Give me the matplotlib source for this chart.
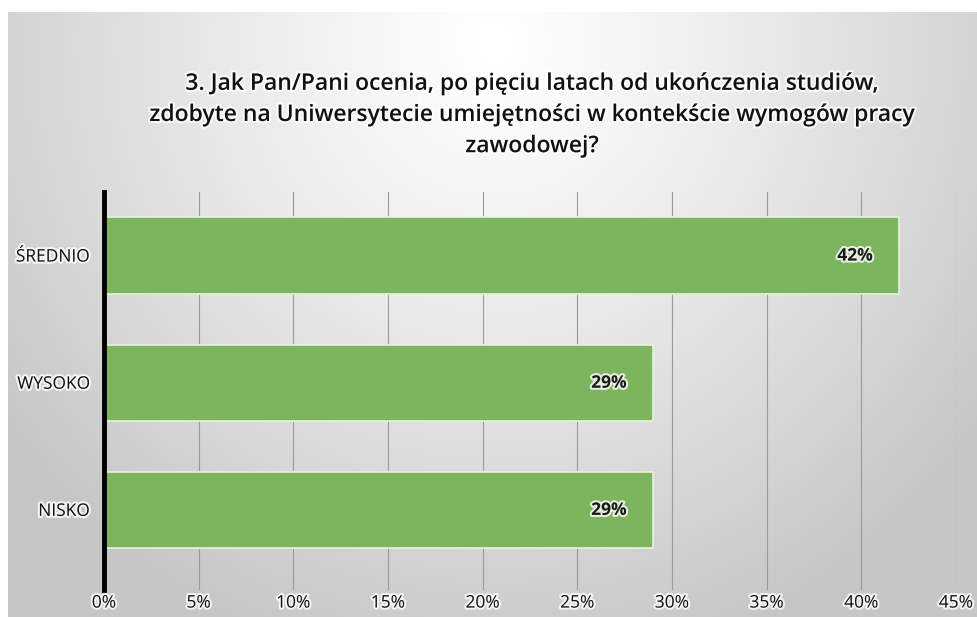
import numpy as np
import matplotlib
matplotlib.use("Agg")
import matplotlib.pyplot as plt
import matplotlib.patheffects as pe

categories = ["NISKO", "WYSOKO", "ŚREDNIO"]
values = [29, 29, 42]
value_labels = ["29%", "29%", "42%"]
xticks = [0, 5, 10, 15, 20, 25, 30, 35, 40, 45]
xtick_labels = ["0%", "5%", "10%", "15%", "20%", "25%", "30%", "35%", "40%", "45%"]
title = ("3. Jak Pan/Pani ocenia, po pięciu latach od ukończenia studiów,\n"
         "zdobyte na Uniwersytecie umiejętności w kontekście wymogów pracy\n"
         "zawodowej?")

W, H = 978, 617
fig = plt.figure(figsize=(W / 100, H / 100), dpi=100)
fig.patch.set_facecolor("white")

# background gradient panel
bg = fig.add_axes([8 / W, 0, 1 - 8 / W, 1 - 12 / H])
bg.set_axis_off()
ny, nx = 300, 480
yy, xx = np.mgrid[0:ny, 0:nx]
cx, cy = nx * 0.5, ny * 0.05
d = np.sqrt(((xx - cx) / (nx * 0.62)) ** 2 + ((yy - cy) / (ny * 1.05)) ** 2)
d = np.clip(d, 0, 1)
val = 1.0 - 0.22 * d ** 1.2
img = np.dstack([val, val, val])
bg.imshow(img, aspect="auto", extent=[0, 1, 0, 1], interpolation="bilinear")
bg.set_xlim(0, 1); bg.set_ylim(0, 1)

font = ["Open Sans", "DejaVu Sans"]
glow = [pe.withStroke(linewidth=3, foreground="white", alpha=0.8)]

# plot axes: x 0->104px, 45->956px ; y top 192, bottom 590
x0, x1 = 104, 956
yt, yb = 192, 590
ax = fig.add_axes([x0 / W, (H - yb) / H, (x1 - x0) / W, (yb - yt) / H])
ax.patch.set_alpha(0)
ypos = np.arange(len(categories))
bars = ax.barh(ypos, values, height=0.6, color="#7db45e", edgecolor="#e8f3df",
               linewidth=1.2, zorder=3)
ax.set_xlim(0, 45)
ax.set_ylim(-0.63, 2.5)
ax.set_xticks(xticks)
ax.set_xticklabels(xtick_labels, fontsize=12.5, family=font, color="#111111")
ax.set_yticks(ypos)
ax.set_yticklabels(categories, fontsize=12.5, family=font, color="#111111")
for lbl in ax.get_xticklabels() + ax.get_yticklabels():
    lbl.set_path_effects(glow)
ax.tick_params(axis="both", length=0)
ax.tick_params(axis="x", pad=4)
ax.tick_params(axis="y", pad=10)
ax.grid(axis="x", color="#9a9a9a", linewidth=0.8, zorder=0)
ax.set_axisbelow(True)
for s in ["top", "right", "bottom"]:
    ax.spines[s].set_visible(False)
ax.spines["left"].set_linewidth(3.5)
ax.spines["left"].set_color("black")
ax.spines["left"].set_zorder(5)

for b, lab in zip(bars, value_labels):
    ax.text(b.get_width() - 1.4, b.get_y() + b.get_height() / 2, lab,
            ha="right", va="center", fontsize=12.5, fontweight="bold",
            family=font, color="#1a1a1a", path_effects=glow, zorder=6)

fig.text(532 / W, 1 - 115 / H, title, ha="center", va="center",
         fontsize=16.5, fontweight="semibold", family=font, color="#111111",
         linespacing=1.4, path_effects=glow)

fig.savefig("out.png", dpi=100)
